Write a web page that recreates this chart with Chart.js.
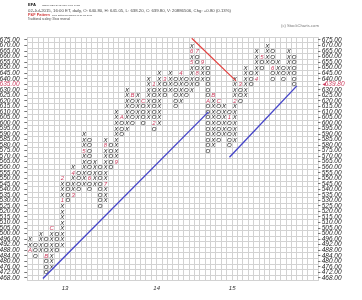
<!DOCTYPE html>
<html>
<head>
<meta charset="utf-8">
<script src="https://cdn.jsdelivr.net/npm/chart.js@4.4.1/dist/chart.umd.min.js"></script>
<style>
html,body{margin:0;padding:0;background:#ffffff;}
canvas{display:block;}
</style>
</head>
<body>
<canvas id="pf" width="362" height="300"></canvas>
<script>
const boxPrices = [468,472,476,480,484,488,492,496,500,505,510,515,520,525,530,535,540,545,550,555,
  560,565,570,575,580,585,590,595,600,605,610,615,620,625,630,635,640,645,650,655,660,665,670,675];

const columnTypes = ['X','O','X','O','X','O','X','O','X','O','X','O','X','O','X','O','X','O','X','O',
  'X','O','X','O','X','O','X','O','X','O','X','O','X','O','X','O','X','O','X','O',
  'X','O','X','O','X','O','X','O','X','O'];
const columnLows  = [488,484,488,472,476,488,492,530,535,540,545,540,545,525,530,560,565,590,595,600,
  605,600,605,595,600,625,630,615,620,625,630,635,640,575,580,585,590,580,585,620,
  625,635,640,650,655,640,645,640,645,635];
const columnHighs = [496,492,500,496,505,500,550,545,560,555,590,585,565,560,585,580,610,605,630,625,
  625,620,640,635,645,640,645,640,645,640,670,665,655,650,625,620,615,610,640,635,
  650,645,665,660,670,665,655,650,665,660];

const monthColumns = [0,3,4,6,6,8,8,10,11,14,14,16,17,19,21,23,23,25,28,30,30,31,31,32,33,34,35,37,38,39,42,43,45];
const monthPrices  = [488,484,505,530,550,535,555,575,550,545,580,565,605,625,620,635,600,640,645,655,665,665,645,655,620,625,620,605,620,635,640,660,650];
const monthLabels  = ['A','B','C','1','2','3','4','5','6','7','8','9','A','B','C','1','2','3','4','5','6','7','8','9','A','B','C','1','2','3','4','5','6'];

const yearLabels  = ['13','14','15'];
const yearColumns = [6, 23, 37];

const lastPrice = '639.80';
const lastBoxPrice = 635;

// trend lines in (column, box-index) units
const resistanceCols  = [30, 38.2];
const resistanceBoxes = [43.3, 35.6];
const support1Cols    = [2.4, 33.1];
const support1Boxes   = [-0.1, 30.0];
const support2Cols    = [37.0, 49.5];
const support2Boxes   = [21.8, 34.7];

const headerSymbol = 'EFA';
const headerName = 'iShares MSCI EAFE Index Fund  NYSE';
const headerQuote = '02-Jul-2015, 16:00 ET, daily, O: 640.80, H: 641.05, L: 638.20, C: 639.80, V: 20886506, Chg: +0.80 (0.13%)';
const headerPatternTitle = 'P&F Pattern';
const headerPattern = 'Triple Bottom Breakdown on 30-Jun-2015';
const headerScaling = 'Traditional scaling: 3 box reversal';
const headerCopy = '(c) StockCharts.com';

// ---- build point tables from the data ----
const boxIndex = p => boxPrices.indexOf(p);
const xPoints = [], oPoints = [], monthPoints = [];
columnTypes.forEach((t, c) => {
  for (let r = boxIndex(columnLows[c]); r <= boxIndex(columnHighs[c]); r++) {
    const isMonth = monthColumns.some((mc, j) => mc === c && boxIndex(monthPrices[j]) === r);
    if (isMonth) continue;
    (t === 'X' ? xPoints : oPoints).push({x: c, y: r});
  }
});
monthLabels.forEach((m, j) => monthPoints.push({x: monthColumns[j], y: boxIndex(monthPrices[j]), label: m}));
const toLine = (cols, boxes) => cols.map((c, i) => ({x: c, y: boxes[i]}));

const nCols = 54;
const FONT = '"Liberation Sans", Arial, sans-serif';
const RED = '#cc3a5c';

const glyphPlugin = {
  id: 'glyphs',
  beforeDatasetsDraw(chart) {
    const c = chart.ctx;
    c.save();
    c.textAlign = 'center';
    c.textBaseline = 'middle';
    chart.data.datasets.forEach((ds, i) => {
      if (!ds.glyph) return;
      const meta = chart.getDatasetMeta(i);
      c.font = 'italic 6px ' + FONT;
      c.fillStyle = ds.glyphColor;
      meta.data.forEach((el, j) => {
        const t = ds.glyph === 'month' ? ds.data[j].label : ds.glyph;
        c.fillText(t, el.x, el.y + 0.4);
      });
    });
    c.restore();
  }
};

function fitText(c, text, x, y, width, style, color) {
  c.font = style + ' 10px ' + FONT;
  const w = c.measureText(text).width;
  const size = 10 * width / w;
  c.font = style + ' ' + size.toFixed(2) + 'px ' + FONT;
  c.fillStyle = color;
  c.fillText(text, x, y);
}

const headerPlugin = {
  id: 'header',
  afterDraw(chart) {
    const c = chart.ctx;
    c.save();
    c.textAlign = 'left';
    c.textBaseline = 'middle';
    fitText(c, headerSymbol, 28, 5, 8, 'bold', '#111');
    fitText(c, headerName, 42, 5, 38, 'normal', '#444');
    fitText(c, headerQuote, 28, 10.5, 203, 'normal', '#444');
    fitText(c, headerPatternTitle, 28, 15, 22, 'bold', '#d03838');
    fitText(c, headerPattern, 52, 15, 40, 'normal', '#444');
    fitText(c, headerScaling, 28, 19.5, 42, 'normal', '#444');
    fitText(c, headerCopy, 281, 25.7, 38, 'normal', '#777');
    c.restore();
  }
};

const priceTickColor = ctx => boxPrices[ctx.tick.value] === lastBoxPrice ? RED : '#222';

new Chart(document.getElementById('pf').getContext('2d'), {
  type: 'scatter',
  data: {
    datasets: [
      {label: 'X', data: xPoints, glyph: 'X', glyphColor: '#111', pointRadius: 0, pointHoverRadius: 0},
      {label: 'O', data: oPoints, glyph: 'O', glyphColor: '#111', pointRadius: 0, pointHoverRadius: 0},
      {label: 'Months', data: monthPoints, glyph: 'month', glyphColor: RED, pointRadius: 0, pointHoverRadius: 0},
      {type: 'line', label: 'Resistance', data: toLine(resistanceCols, resistanceBoxes), borderColor: '#e3413f', borderWidth: 1.2, pointRadius: 0, fill: false, tension: 0},
      {type: 'line', label: 'Support 1', data: toLine(support1Cols, support1Boxes), borderColor: '#4646c8', borderWidth: 1.4, pointRadius: 0, fill: false, tension: 0},
      {type: 'line', label: 'Support 2', data: toLine(support2Cols, support2Boxes), borderColor: '#4646c8', borderWidth: 1.4, pointRadius: 0, fill: false, tension: 0}
    ]
  },
  options: {
    responsive: false,
    animation: false,
    devicePixelRatio: 1,
    events: [],
    layout: {padding: {top: 37.2, left: 0, right: 0, bottom: 0}},
    plugins: {legend: {display: false}, tooltip: {enabled: false}},
    scales: {
      x: {
        type: 'linear', min: -0.5, max: nCols - 0.5,
        afterBuildTicks: s => { s.ticks = Array.from({length: nCols + 1}, (_, i) => ({value: i - 0.5})); },
        afterFit: s => { s.height = 19.4; },
        grid: {color: '#d2d2d2', drawTicks: false, lineWidth: 1},
        border: {display: false},
        ticks: {
          autoSkip: false, maxRotation: 0, padding: 3.8, color: '#333',
          font: {family: FONT, size: 6, style: 'italic'},
          callback: v => { const j = yearColumns.findIndex(c => c + 0.5 === v); return j >= 0 ? yearLabels[j] : ''; }
        }
      },
      y: {
        type: 'linear', position: 'left', min: -0.5, max: boxPrices.length - 0.5,
        afterBuildTicks: s => { s.ticks = boxPrices.map((p, i) => ({value: i})); },
        afterFit: s => { s.width = 27.3; },
        grid: {drawOnChartArea: false, drawTicks: true, tickLength: 3, color: '#777'},
        border: {display: false},
        ticks: {
          autoSkip: false, padding: 4.8, color: priceTickColor,
          font: {family: FONT, size: 6.5, style: 'italic'},
          callback: v => boxPrices[v].toFixed(2)
        }
      },
      yR: {
        type: 'linear', position: 'right', min: -0.5, max: boxPrices.length - 0.5,
        afterBuildTicks: s => { s.ticks = boxPrices.map((p, i) => ({value: i})); },
        afterFit: s => { s.width = 43.6; },
        grid: {drawOnChartArea: false, drawTicks: true, tickLength: 2, color: '#777'},
        border: {display: false},
        ticks: {
          autoSkip: false, padding: 1.3, color: priceTickColor,
          font: {family: FONT, size: 6.5, style: 'italic'},
          callback: v => boxPrices[v] === lastBoxPrice ? '\u25C2' + lastPrice : boxPrices[v].toFixed(2)
        }
      },
      yG: {
        type: 'linear', position: 'left', min: -0.5, max: boxPrices.length - 0.5,
        afterBuildTicks: s => { s.ticks = Array.from({length: boxPrices.length + 1}, (_, i) => ({value: i - 0.5})); },
        afterFit: s => { s.width = 0; },
        grid: {color: '#d2d2d2', drawTicks: false, lineWidth: 1},
        border: {display: false},
        ticks: {display: false}
      }
    }
  },
  plugins: [glyphPlugin, headerPlugin]
});
</script>
</body>
</html>
